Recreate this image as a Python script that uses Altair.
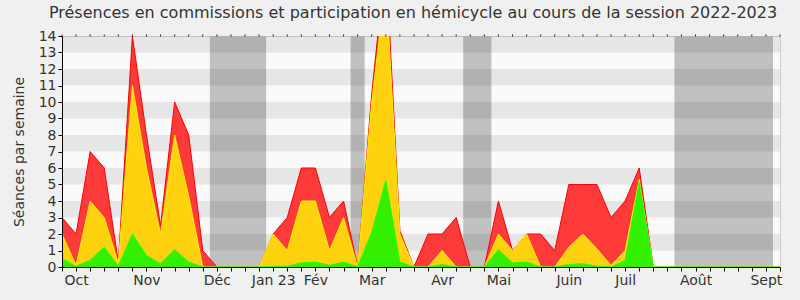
import altair as alt
import pandas as pd

# ---- data ----
weeks = list(range(52))
# red: présences (total)
presence = [3, 2, 7, 6, 0.3, 14, 8, 2.5, 10, 8, 1, 0, 0, 0, 0,
            2, 3, 6, 6, 3, 4, 0, 10.5, 18.7, 2.2, 0, 2, 2, 3, 0, 0,
            4, 1, 2, 2, 1, 5, 5, 5, 3, 4, 6] + [0] * 10
# yellow
participation = [2, 0.1, 4, 3, 0.25, 11, 6, 2, 8, 4.3, 0, 0, 0, 0, 0,
                 2, 1, 4, 4, 1, 3, 0, 10, 17.2, 2, 0, 0, 1, 0, 0, 0,
                 2, 1, 2, 0, 0, 1.2, 2, 1.1, 0.1, 1, 5.3] + [0] * 10
# green
interventions = [0.5, 0.05, 0.4, 1.2, 0.05, 2, 0.7, 0.2, 1.05, 0.3, 0, 0, 0, 0, 0,
                 0.05, 0.05, 0.25, 0.3, 0.1, 0.3, 0, 2.1, 5.25, 0.3, 0, 0, 0.15, 0, 0, 0,
                 1.05, 0.25, 0.3, 0, 0, 0.15, 0.2, 0.05, 0, 0.4, 5.16] + [0] * 10

vac_start = [10.5, 20.5, 28.5, 43.5]
vac_end = [14.5, 21.5, 30.5, 50.5]

stripe_lo = [1, 3, 5, 7, 9, 11, 13]
stripe_hi = [2, 4, 6, 8, 10, 12, 14]

month_weeks = [1, 6, 11, 15, 18, 22, 27, 31, 36, 40, 45, 50]
month_names = ["Oct", "Nov", "Déc", "Jan 23", "Fév", "Mar", "Avr", "Mai",
               "Juin", "Juil", "Août", "Sept"]
y_ticks = list(range(15))

TITLE = "Présences en commissions et participation en hémicycle au cours de la session 2022-2023"
FONT = "DejaVu Sans"
W, H = 718, 231

df = pd.DataFrame({"week": weeks, "presence": presence,
                   "participation": participation, "interventions": interventions})
vac = pd.DataFrame({"start": vac_start, "end": vac_end})
stripes = pd.DataFrame({"lo": stripe_lo, "hi": stripe_hi})
wk = pd.DataFrame({"week": weeks})

label_expr = "".join(f"datum.value == {w} ? '{n}' : " for w, n in zip(month_weeks, month_names)) + "''"

xscale = alt.Scale(domain=[0, 51], nice=False, zero=False)
yscale = alt.Scale(domain=[0, 14], nice=False)

x_axis = alt.Axis(values=weeks, labelExpr=label_expr, title=None, grid=False,
                  tickSize=4, tickColor="#000", domainColor="#000", zindex=1,
                  labelFontSize=14, labelFont=FONT, labelColor="#333",
                  labelPadding=2, labelOverlap=False, labelFlush=False)
y_axis = alt.Axis(values=y_ticks, title="Séances par semaine", grid=False,
                  tickSize=4, tickColor="#000", domainColor="#000", zindex=1,
                  labelFontSize=14, labelFont=FONT, labelColor="#333", labelPadding=2,
                  labelOverlap=False, labelFlush=False,
                  titleFontSize=14, titleFont=FONT, titleFontWeight="normal",
                  titleColor="#333", titlePadding=12)

X = lambda f: alt.X(f, scale=xscale, axis=x_axis, title=None)
Y = lambda f: alt.Y(f, scale=yscale, axis=y_axis, title="Séances par semaine")

bands = alt.Chart(vac).mark_rect(color="#c0c0c0").encode(
    x=X("start:Q"), x2="end:Q",
    y=alt.value(0), y2=alt.value(H))

stripe_layer = alt.Chart(stripes).mark_rect(color="#000", opacity=0.08).encode(
    y=Y("lo:Q"), y2="hi:Q",
    x=alt.value(0), x2=alt.value(W))

top_ticks = alt.Chart(wk).mark_rule(color="#222", strokeWidth=1).encode(
    x=X("week:Q"), y=alt.value(-1.5), y2=alt.value(0.5))

base = alt.Chart(df)

def series(field, fill, stroke):
    area = base.mark_area(color=fill, opacity=1, clip=True, interpolate="linear").encode(
        x=X("week:Q"), y=Y(f"{field}:Q"))
    line = base.mark_line(color=stroke, strokeWidth=1, clip=True).encode(
        x=X("week:Q"), y=Y(f"{field}:Q"))
    return [area, line]

layers = [bands, stripe_layer]
layers += series("presence", "#ff3a3a", "#ff0000")
layers += series("participation", "#ffd20f", "#ffee00")
layers += series("interventions", "#33f000", "#22ff00")
layers += [top_ticks]

chart = alt.layer(*layers).properties(
    width=W, height=H,
    title=alt.TitleParams(TITLE, fontSize=16, font=FONT, fontWeight="normal",
                          color="#333", anchor="middle", dx=-8, offset=8),
    autosize=alt.AutoSizeParams(type="none"),
    padding={"left": 62, "top": 36, "right": 20, "bottom": 33},
    background="#f0f0f0",
).configure_view(fill="#fafafa", stroke="#d0d0d0", strokeWidth=1)

chart.save("out.html", embed_options={"renderer": "svg", "actions": False})
